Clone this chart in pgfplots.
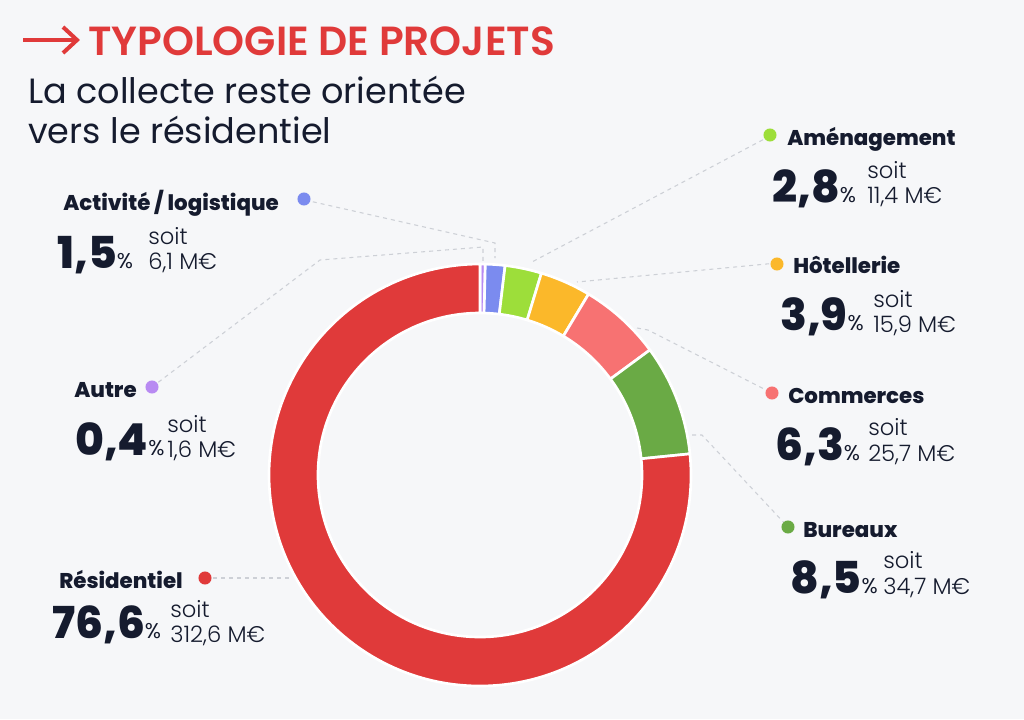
\documentclass[border=0pt]{standalone}
\usepackage{pgfplots}
\pgfplotsset{compat=1.18}
\usepackage{pgfplotstable}
\usepackage{fontspec}
\setmainfont{Poppins}
\newfontfamily\pxb{Poppins ExtraBold}
\newfontfamily\psb{Poppins SemiBold}
\newfontfamily\plt{Poppins Light}

\definecolor{bg}{HTML}{F6F7F9}
\definecolor{ink}{HTML}{151B2E}
\definecolor{ttl}{HTML}{E03A3A}
\definecolor{cRes}{HTML}{E03A3A}
\definecolor{cAct}{HTML}{7B8BEF}
\definecolor{cAme}{HTML}{9DDE3A}
\definecolor{cHot}{HTML}{FBB82A}
\definecolor{cCom}{HTML}{F77272}
\definecolor{cBur}{HTML}{6AAA45}
\definecolor{cAut}{HTML}{B88AF2}
\definecolor{lg}{HTML}{CDD0D6}

\pgfplotstableread{
key pct amount
Autre 0.4 1.6
Activite 1.5 6.1
Amenagement 2.8 11.4
Hotellerie 3.9 15.9
Commerces 6.3 25.7
Bureaux 8.5 34.7
Residentiel 76.6 312.6
}\donut

\newcommand\seg[3]{%
  \filldraw[fill=#1, draw=white, line width=2pt, line join=round]
  (axis cs:{480+211*cos(#2)},{475-211*sin(#2)}) arc[start angle=#2, end angle=#3, radius=158.25pt]
  -- (axis cs:{480+162*cos(#3)},{475-162*sin(#3)}) arc[start angle=#3, end angle=#2, radius=121.5pt] -- cycle;}

\newcommand\lbl[3]{\node[anchor=base west, inner sep=0, text=ink] at (axis cs:#1,#2) {\pxb\fontsize{16}{16}\selectfont #3};}
\newcommand\num[3]{\node[anchor=base west, inner sep=0, text=ink] at (axis cs:#1,#2) {{\pxb\fontsize{33}{33}\selectfont #3}{\fontsize{16}{16}\selectfont\%}};}
\newcommand\soit[4]{\node[anchor=base west, inner sep=0, text=ink] at (axis cs:#1,#2) {\plt\fontsize{17}{17}\selectfont soit};
  \node[anchor=base west, inner sep=0, text=ink] at (axis cs:#1,#3) {\plt\fontsize{17}{17}\selectfont #4 M€};}
\newcommand\mdot[3]{\fill[#3] (axis cs:#1,#2) circle[radius=4.9pt];}

\begin{document}
\begin{tikzpicture}
\pgfmathsetmacro\aA{90}
\pgfplotstablegetelem{0}{pct}\of\donut\pgfmathsetmacro\aB{\aA-3.6*\pgfplotsretval}
\pgfplotstablegetelem{1}{pct}\of\donut\pgfmathsetmacro\aC{\aB-3.6*\pgfplotsretval}
\pgfplotstablegetelem{2}{pct}\of\donut\pgfmathsetmacro\aD{\aC-3.6*\pgfplotsretval}
\pgfplotstablegetelem{3}{pct}\of\donut\pgfmathsetmacro\aE{\aD-3.6*\pgfplotsretval}
\pgfplotstablegetelem{4}{pct}\of\donut\pgfmathsetmacro\aF{\aE-3.6*\pgfplotsretval}
\pgfplotstablegetelem{5}{pct}\of\donut\pgfmathsetmacro\aG{\aF-3.6*\pgfplotsretval}
\pgfplotstablegetelem{6}{pct}\of\donut\pgfmathsetmacro\aH{\aG-3.6*\pgfplotsretval}
\begin{axis}[x=0.75pt, y=0.75pt, xmin=0, xmax=1024, ymin=0, ymax=719,
  y dir=reverse, hide axis, clip=false, enlargelimits=false]
\fill[bg] (axis cs:0,0) rectangle (axis cs:1024,719);
% title
\draw[ttl, line width=3pt] (axis cs:23,40) -- (axis cs:75,40);
\draw[ttl, line width=3pt, line join=miter] (axis cs:63,27) -- (axis cs:77,40) -- (axis cs:63,53);
\node[anchor=base west, inner sep=0, text=ttl] at (axis cs:88,55) {\psb\fontsize{30.5}{30.5}\selectfont TYPOLOGIE DE PROJETS};
\node[anchor=base west, inner sep=0, text=ink] at (axis cs:28,103) {\fontsize{26.3}{26.3}\selectfont La collecte reste orientée};
\node[anchor=base west, inner sep=0, text=ink] at (axis cs:28,143) {\fontsize{26.3}{26.3}\selectfont vers le résidentiel};
% donut
\seg{cAut}{\aA}{\aB}
\seg{cAct}{\aB}{\aC}
\seg{cAme}{\aC}{\aD}
\seg{cHot}{\aD}{\aE}
\seg{cCom}{\aE}{\aF}
\seg{cBur}{\aF}{\aG}
\seg{cRes}{\aG}{\aH}
% leader lines
\begin{scope}[lg, line width=0.8pt, dash pattern=on 3pt off 3pt]
\draw (axis cs:305,200) -- (axis cs:495,243) -- (axis cs:495,258);
\draw (axis cs:152,387) -- (axis cs:320,260) -- (axis cs:483,247) -- (axis cs:483,262);
\draw (axis cs:770,136) -- (axis cs:530,263);
\draw (axis cs:777,263) -- (axis cs:577,282);
\draw (axis cs:637,328) -- (axis cs:648,330) -- (axis cs:772,393);
\draw (axis cs:692,435) -- (axis cs:702,435) -- (axis cs:788,527);
\draw (axis cs:205,578) -- (axis cs:292,578);
\end{scope}
% dots
\mdot{304}{199}{cAct}
\mdot{152}{387}{cAut}
\mdot{205}{578}{cRes}
\mdot{770}{135}{cAme}
\mdot{777}{264}{cHot}
\mdot{772}{393}{cCom}
\mdot{788}{527}{cBur}
% labels
\lbl{63}{210}{Activité / logistique}
\num{57}{268}{1,5}
\soit{148}{244}{269}{6,1}
\lbl{74}{397}{Autre}
\num{75}{455}{0,4}
\soit{167}{432}{457}{1,6}
\lbl{59}{588}{Résidentiel}
\num{52}{638}{76,6}
\soit{170}{617}{642}{312,6}
\lbl{787}{145}{Aménagement}
\num{772}{202}{2,8}
\soit{867}{178}{203}{11,4}
\lbl{793}{273}{Hôtellerie}
\num{780}{330}{3,9}
\soit{873}{307}{332}{15,9}
\lbl{788}{403}{Commerces}
\num{775}{460}{6,3}
\soit{868}{435}{461}{25,7}
\lbl{803}{537}{Bureaux}
\num{790}{593}{8,5}
\soit{883}{568}{594}{34,7}
\end{axis}
\end{tikzpicture}
\end{document}
